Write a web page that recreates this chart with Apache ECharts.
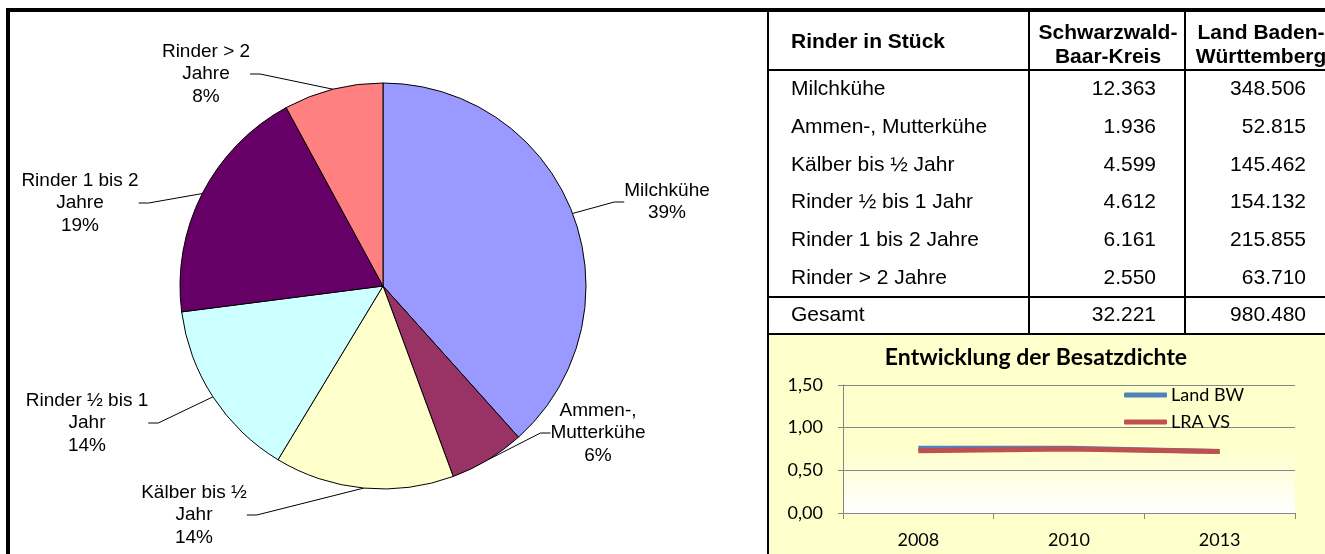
<!DOCTYPE html>
<html><head><meta charset="utf-8">
<script src="https://cdn.jsdelivr.net/npm/echarts@6/dist/echarts.min.js"></script>
<style>html,body{margin:0;padding:0;background:#fff}#c{width:1325px;height:554px}</style>
</head><body><div id="c"></div>
<script>
// ---- data ----
const categories = ["Milchkühe", "Ammen-, Mutterkühe", "Kälber bis ½ Jahr", "Rinder ½ bis 1 Jahr", "Rinder 1 bis 2 Jahre", "Rinder > 2 Jahre"];
const pieLabelNames = ["Milchkühe", "Ammen-,\nMutterkühe", "Kälber bis ½\nJahr", "Rinder ½ bis 1\nJahr", "Rinder 1 bis 2\nJahre", "Rinder > 2\nJahre"];
const schwarzwaldValues = [12363, 1936, 4599, 4612, 6161, 2550];
const badenWuerttembergValues = [348506, 52815, 145462, 154132, 215855, 63710];
const schwarzwaldTotal = 32221;
const badenWuerttembergTotal = 980480;
const tableHeaderFirst = "Rinder in Stück";
const tableHeaderCols = ["Schwarzwald-\nBaar-Kreis", "Land Baden-\nWürttemberg"];
const totalLabel = "Gesamt";
const lineTitle = "Entwicklung der Besatzdichte";
const years = ["2008", "2010", "2013"];
const seriesNames = ["Land BW", "LRA VS"];
const landBW = [0.76, 0.76, 0.72];
const lraVS = [0.73, 0.75, 0.72];

// ---- styles / layout ----
const pieColors = ["#9999FF", "#993366", "#FFFFCC", "#CCFFFF", "#660066", "#FF8080"];
const lineColors = ["#4F81BD", "#C0504D"];
const pieLabelCenters = [[667, 202], [598, 433], [194, 515], [87, 423], [80, 203], [206, 74]];
const rowY = [89, 127, 165, 202, 240, 278];
const totalY = 315;
const colLabelX = 791, col1Right = 1156, col2Right = 1306;
const FONT = '"Liberation Sans", Arial, sans-serif';
const CAL = 'Lato, "Open Sans", sans-serif';

function fmt(n) { return String(n).replace(/\B(?=(\d{3})+(?!\d))/g, '.'); }

const graphics = [];
graphics.push({ type: 'rect', z: -10, shape: { x: 769, y: 334, width: 560, height: 230 }, style: { fill: '#FFFFCC' } });
function L(x1, y1, x2, y2, w) { graphics.push({ type: 'line', z: 50, shape: { x1, y1, x2, y2 }, style: { stroke: '#000', lineWidth: w } }); }
L(6, 10, 1325, 10, 4);
L(8, 8, 8, 554, 4);
L(768, 10, 768, 554, 2);
L(768, 70, 1325, 70, 2);
L(1029, 10, 1029, 334, 2);
L(1185, 10, 1185, 334, 2);
L(768, 297, 1325, 297, 2);
L(768, 334, 1325, 334, 2);
function T(text, x, y, align, bold) {
  graphics.push({ type: 'text', z: 50, x, y, style: { text, fill: '#000', font: (bold ? 'bold ' : '') + '21px ' + FONT, align, verticalAlign: 'middle', lineHeight: 24 } });
}
T(tableHeaderFirst, colLabelX, 42, 'left', true);
T(tableHeaderCols[0], 1108, 45, 'center', true);
T(tableHeaderCols[1], 1261, 45, 'center', true);
categories.forEach((c, i) => {
  T(c, colLabelX, rowY[i], 'left', false);
  T(fmt(schwarzwaldValues[i]), col1Right, rowY[i], 'right', false);
  T(fmt(badenWuerttembergValues[i]), col2Right, rowY[i], 'right', false);
});
T(totalLabel, colLabelX, totalY, 'left', false);
T(fmt(schwarzwaldTotal), col1Right, totalY, 'right', false);
T(fmt(badenWuerttembergTotal), col2Right, totalY, 'right', false);
graphics.push({ type: 'text', z: 50, x: 1036, y: 358, style: { text: lineTitle, fill: '#000', font: 'bold 23px ' + CAL, align: 'center', verticalAlign: 'middle' } });

const chart = echarts.init(document.getElementById('c'), null, { renderer: 'canvas' });
chart.setOption({
  animation: false,
  backgroundColor: '#fff',
  graphic: graphics,
  legend: {
    data: seriesNames, orient: 'vertical', left: 1124, top: 386, itemWidth: 43, itemHeight: 5,
    icon: 'roundRect', itemGap: 9, padding: 0,
    textStyle: { fontFamily: CAL, fontSize: 18, color: '#000', padding: [0, 0, 0, -1] }
  },
  grid: {
    left: 843, top: 385, width: 452, height: 128, show: true, borderWidth: 0,
    backgroundColor: { type: 'linear', x: 0, y: 0, x2: 0, y2: 1, colorStops: [
      { offset: 0, color: '#FFFFCC' }, { offset: 0.5, color: '#FFFFCC' }, { offset: 1, color: '#FFFFFF' }] }
  },
  xAxis: {
    type: 'category', data: years, boundaryGap: true,
    axisLine: { lineStyle: { color: '#868686', width: 1 } },
    axisTick: { show: true, length: 6, lineStyle: { color: '#868686' } },
    axisLabel: { color: '#000', fontFamily: CAL, fontSize: 18, margin: 18 }
  },
  yAxis: {
    type: 'value', min: 0, max: 1.5, interval: 0.5,
    axisLine: { show: true, lineStyle: { color: '#868686', width: 1 } },
    axisTick: { show: true, length: 5, lineStyle: { color: '#868686' } },
    splitLine: { lineStyle: { color: '#868686', width: 1 } },
    axisLabel: { color: '#000', fontFamily: CAL, fontSize: 18, margin: 20, formatter: v => v.toFixed(2).replace('.', ',') }
  },
  series: [
    {
      type: 'pie', center: [383, 286], radius: 203, startAngle: 90, clockwise: true,
      percentPrecision: 0, silent: true,
      data: categories.map((c, i) => ({ name: c, value: schwarzwaldValues[i], itemStyle: { color: pieColors[i] } })),
      itemStyle: { borderColor: '#000', borderWidth: 1 },
      label: {
        show: true, position: 'outside', color: '#000', fontFamily: FONT, fontSize: 19, lineHeight: 22.5, align: 'center',
        formatter: p => pieLabelNames[p.dataIndex] + '\n' + p.percent + '%'
      },
      labelLine: { show: true, length: 10, length2: 10, smooth: false, lineStyle: { color: '#000', width: 1 } },
      labelLayout: p => { const c = pieLabelCenters[p.dataIndex]; return { x: c[0], y: c[1], align: 'center', verticalAlign: 'middle' }; }
    },
    { type: 'line', name: seriesNames[0], data: landBW, symbol: 'none', lineStyle: { color: lineColors[0], width: 5 }, itemStyle: { color: lineColors[0] } },
    { type: 'line', name: seriesNames[1], data: lraVS, symbol: 'none', lineStyle: { color: lineColors[1], width: 5 }, itemStyle: { color: lineColors[1] } }
  ]
});
</script>
</body></html>
